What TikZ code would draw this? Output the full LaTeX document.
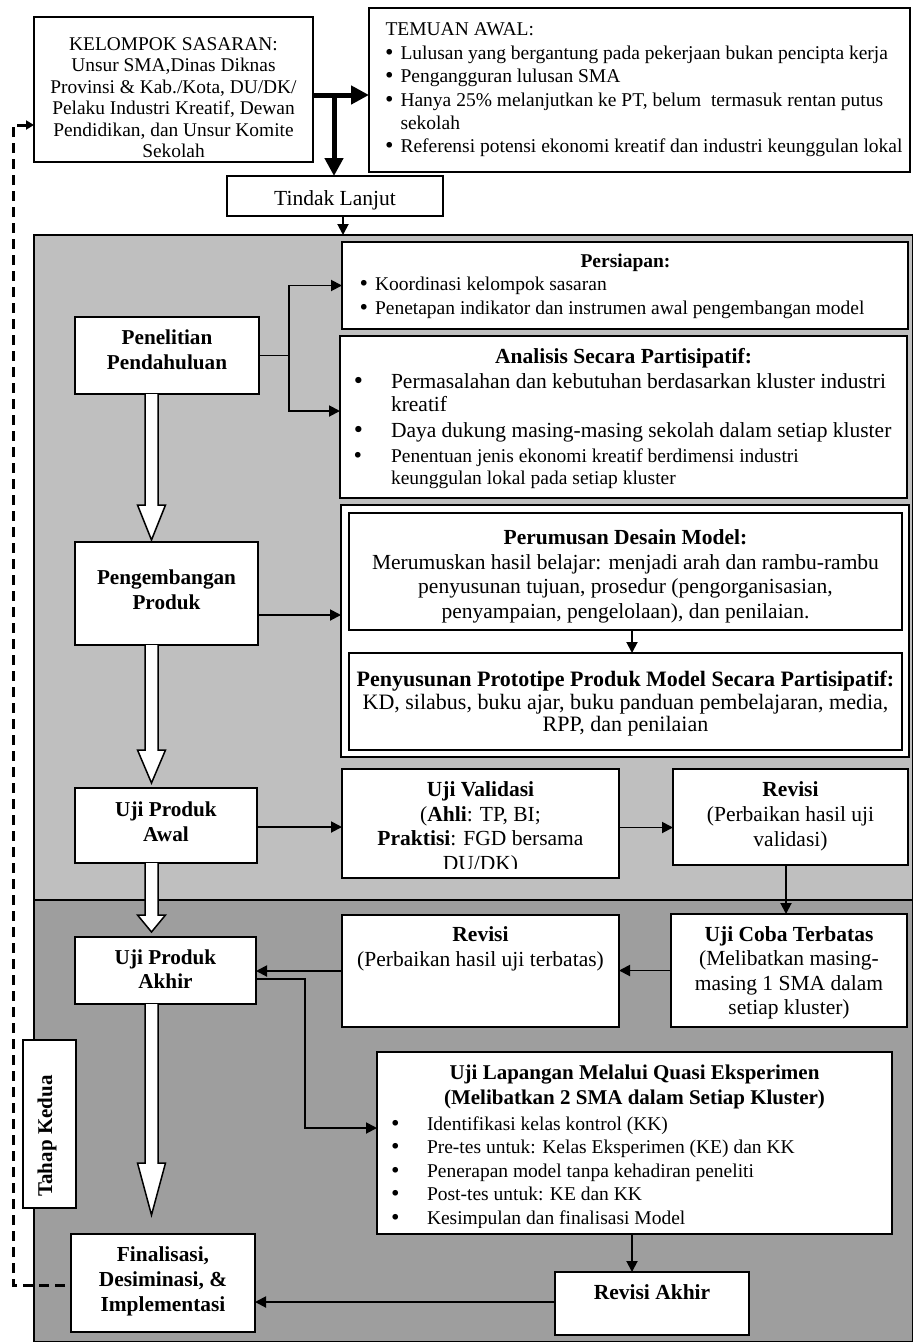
\documentclass[tikz,border=0pt]{standalone}
\usepackage{fontspec}
\setmainfont{Liberation Serif}
\newfontfamily\dejavu{DejaVu Sans}
\usetikzlibrary{arrows.meta,calc}
\definecolor{lightg}{RGB}{191,191,191}
\definecolor{darkg}{RGB}{158,158,158}
\newcommand\fsz[2]{\fontsize{#1}{#2}\selectfont}
\newcommand\bul{{\dejavu •}}
\newcommand\bxnode[6][]{\node[box,#1,minimum width={(#4)-(#2)},minimum height={(#5)-(#3)}] (#6) at ({((#2)+(#4))/2},{((#3)+(#5))/2}) {};}
\newcommand\ctext[6]{\node[txt,anchor=north] (#1) at (#2,#3) {\fsz{#4}{#5}\begin{tabular}{@{}c@{}}#6\end{tabular}};}
\newcommand\ltext[7]{\node[txt,anchor=north west] (#1) at (#2,#3) {\fsz{#4}{#5}\begin{tabular}{@{}p{#6}@{}l@{}}#7\end{tabular}};}
\newcommand\wblock[3]{\draw[wblk] let \p1=#1, \p2=#2 in (\x1-6.5pt,\y1) -- (\x1-6.5pt,\y2+#3) -- (\x1-14pt,\y2+#3) -- (\x1,\y2) -- (\x1+14pt,\y2+#3) -- (\x1+6.5pt,\y2+#3) -- (\x1+6.5pt,\y1);}
\begin{document}
\begin{tikzpicture}[x=1pt,y=-1pt,
  box/.style={draw,line width=1.8pt,fill=white,inner sep=0pt,outer sep=0pt},
  txt/.style={inner sep=0pt,outer sep=0pt},
  cn/.style={line width=1.9pt},
  arr/.style={line width=1.9pt,-{Triangle[length=11pt,width=11pt]}},
  thk/.style={line width=5pt,-{Triangle[length=18pt,width=18pt]}},
  dsh/.style={line width=3pt,dash pattern=on 10pt off 6pt,-{Triangle[length=8pt,width=9pt]}},
  wblk/.style={draw,fill=white,line width=1.5pt,line join=miter}]
\useasboundingbox (0,0) rectangle (913,1342);

% regions
\bxnode[fill=lightg,line width=1.5pt]{34}{235}{913}{900}{lgt}
\bxnode[fill=darkg,line width=1.5pt]{34}{900}{913}{1342}{drk}

% top boxes
\bxnode{34}{17}{313}{162}{kel}
\bxnode{369}{8}{910}{172}{tem}
\bxnode{227}{176}{443}{216}{tin}
\begin{scope}
\clip (34,17) rectangle (313,157);
\ctext{kelT}{173.5}{35}{19.4}{21.5}{KELOMPOK SASARAN:\\Unsur SMA,Dinas Diknas\\Provinsi \& Kab./Kota, DU/DK/\\Pelaku Industri Kreatif, Dewan\\Pendidikan, dan Unsur Komite\\Sekolah}
\end{scope}
\ltext{temT}{383.5}{19.6}{19.5}{23.4}{17pt}{\multicolumn{2}{@{}l@{}}{\hspace*{2pt}TEMUAN AWAL:}\\ \bul & Lulusan yang bergantung pada pekerjaan bukan pencipta kerja\\ \bul & Pengangguran lulusan SMA\\ \bul & Hanya 25\% melanjutkan ke PT, belum\ \ termasuk rentan putus\\ & sekolah\\ \bul & Referensi potensi ekonomi kreatif dan industri keunggulan lokal}
\ctext{tinT}{335}{188}{21.5}{25}{Tindak Lanjut}

% Persiapan
\bxnode{342}{242}{908}{329}{pers}
\ctext{persT}{625.5}{251.5}{19.5}{23.5}{\textbf{Persiapan:}}
\ltext{persL}{358}{274.5}{19.5}{23.5}{17pt}{\bul & Koordinasi kelompok sasaran\\ \bul & Penetapan indikator dan instrumen awal pengembangan model}

% Analisis
\bxnode{340}{336}{907}{498}{anal}
\ctext{analT}{623.5}{346}{21.5}{25}{\textbf{Analisis Secara Partisipatif:}}
\ltext{analL}{352}{371.9}{21.5}{23}{39pt}{\bul & Permasalahan dan kebutuhan berdasarkan kluster industri\\ & kreatif\\[3pt] \bul & Daya dukung masing-masing sekolah dalam setiap kluster}
\ltext{analM}{352}{446.6}{19.5}{22}{39pt}{\bul & Penentuan jenis ekonomi kreatif berdimensi industri\\ & keunggulan lokal pada setiap kluster}

% double box
\bxnode{341}{505}{909}{757}{dbl}
\bxnode{349}{513}{902}{630}{rum}
\bxnode{349}{653}{902}{750}{sus}
\ctext{rumT}{625.5}{527.2}{21.5}{24.7}{\textbf{Perumusan Desain Model:}\\Merumuskan hasil belajar: menjadi arah dan rambu-rambu\\penyusunan tujuan, prosedur (pengorganisasian,\\penyampaian, pengelolaan), dan penilaian.}
\ctext{susT}{625.5}{670.4}{22}{22.8}{\textbf{Penyusunan Prototipe Produk Model Secara Partisipatif:}\\KD, silabus, buku ajar, buku panduan pembelajaran, media,\\RPP, dan penilaian}

% left column
\bxnode{75}{317}{259}{394}{pen}
\ctext{penT}{167}{327}{21.2}{25}{\textbf{Penelitian}\\\textbf{Pendahuluan}}
\bxnode{75}{542}{258}{645}{peng}
\ctext{pengT}{166.5}{567}{21.2}{25}{\textbf{Pengembangan}\\\textbf{Produk}}
\bxnode{75}{788}{257}{863}{awal}
\ctext{awalT}{166}{798.6}{21.2}{25.5}{\textbf{Uji Produk}\\\textbf{Awal}}
\bxnode{75}{937}{256}{1004}{akhir}
\ctext{akhirT}{165.5}{947.7}{21.2}{24}{\textbf{Uji Produk}\\\textbf{Akhir}}
\bxnode{71}{1234}{255}{1332}{fin}
\ctext{finT}{163}{1244}{21.4}{25}{\textbf{Finalisasi,}\\\textbf{Desiminasi, \&}\\\textbf{Implementasi}}

% validation row
\bxnode{342}{769}{619}{878}{uv}
\begin{scope}
\clip (342,769) rectangle (619,868);
\ctext{uvT}{480.5}{779.35}{21.5}{24.5}{\textbf{Uji Validasi}\\(\textbf{Ahli}: TP, BI;\\\textbf{Praktisi}: FGD bersama\\DU/DK)}
\end{scope}
\bxnode{673}{769}{908}{865}{revv}
\ctext{revvT}{790.5}{779}{21.5}{25}{\textbf{Revisi}\\(Perbaikan hasil uji\\validasi)}

% second stage
\bxnode{342}{915}{619}{1027}{revt}
\ctext{revtT}{480.5}{924}{21.5}{25}{\textbf{Revisi}\\(Perbaikan hasil uji terbatas)}
\bxnode{671}{914}{907}{1027}{uct}
\ctext{uctT}{789}{924.5}{21.5}{24.3}{\textbf{Uji Coba Terbatas}\\(Melibatkan masing-\\masing 1 SMA dalam\\setiap kluster)}
\bxnode{23}{1040}{76}{1208}{tahap}
\node[txt,rotate=90] (tahapT) at (47,1136) {\fsz{21}{25}\textbf{Tahap Kedua}};
\bxnode{377}{1052}{892}{1234}{ul}
\ctext{ulT}{634.5}{1062}{21}{25}{\textbf{Uji Lapangan Melalui Quasi Eksperimen}\\\textbf{(Melibatkan 2 SMA dalam Setiap Kluster)}}
\begin{scope}
\clip (377,1052) rectangle (892,1227);
\ltext{ulL}{389.5}{1113.6}{19.5}{23.5}{37.5pt}{\bul & Identifikasi kelas kontrol (KK)\\ \bul & Pre-tes untuk: Kelas Eksperimen (KE) dan KK\\ \bul & Penerapan model tanpa kehadiran peneliti\\ \bul & Post-tes untuk: KE dan KK\\ \bul & Kesimpulan dan finalisasi Model}
\end{scope}
\bxnode{555}{1272}{749}{1335}{reva}
\ctext{revaT}{652}{1282}{21.5}{25}{\textbf{Revisi Akhir}}

% connectors
\coordinate (tj) at (334,95);
\draw[thk] ([yshift=-5.5pt]kel.east) -- ([yshift=-5.5pt]kel.east -| tem.west);
\draw[thk] (tj) -- (tj |- tin.north);
\draw[arr] ([xshift=8pt]tin.south) -- ([xshift=8pt]tin.south |- lgt.north);
\coordinate (dl) at (13,125);
\draw[dsh] ([xshift=-6pt,yshift=-2pt]fin.west) -| (dl) -- ([yshift=-35.5pt]kel.west);
\draw[cn] (pen.east) -- ++(30,0) coordinate (pj);
\draw[arr] (pj) |- (pers.west);
\draw[arr] (pj) |- ([yshift=6pt]anal.west);
\draw[arr] ([yshift=-21.5pt]peng.east) -- ([yshift=-21.5pt]peng.east -| dbl.west);
\draw[arr] ([xshift=6.5pt]rum.south) -- ([xshift=6.5pt]sus.north);
\draw[arr] ([yshift=-1.5pt]awal.east) -- ([yshift=-1.5pt]awal.east -| uv.west);
\draw[arr] ([yshift=-4pt]uv.east) -- ([yshift=-4pt]uv.east -| revv.west);
\draw[arr] ([xshift=-4.5pt]revv.south) -- ([xshift=-4.5pt]revv.south |- uct.north);
\draw[arr] (uct.west) -- (uct.west -| revt.east);
\draw[arr] (revt.west) -- (revt.west -| akhir.east);
\draw[arr] ([yshift=-8.5pt]akhir.east) -- ++(49,0) |- ([yshift=15pt]ul.west);
\draw[arr] ([xshift=-2.5pt]ul.south) -- ([xshift=-2.5pt]ul.south |- reva.north);
\draw[arr] ([yshift=1.5pt]reva.west) -- ([yshift=1.5pt]reva.west -| fin.east);

% white block arrows
\wblock{([xshift=-15.5pt]pen.south)}{([yshift=2pt]peng.north)}{35pt}
\wblock{([xshift=-15pt]peng.south)}{([yshift=5pt]awal.north)}{33pt}
\wblock{([xshift=-14.5pt]awal.south)}{([yshift=5pt]akhir.north)}{17pt}
\wblock{([xshift=-14pt]akhir.south)}{([yshift=19pt]fin.north)}{52pt}
\end{tikzpicture}
\end{document}
